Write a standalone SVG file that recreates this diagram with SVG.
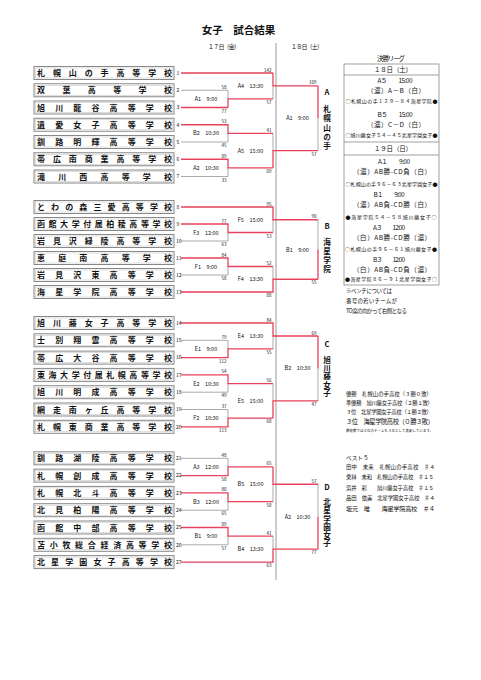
<svg xmlns="http://www.w3.org/2000/svg" width="481" height="680" viewBox="0 0 481 680">
<style>
text{font-family:"Noto Sans CJK JP","Noto Sans",sans-serif;fill:#111}
.r{stroke:#e8425a;stroke-width:1.3;fill:none}
.g{stroke:#a0a0a0;stroke-width:0.9;fill:none}
.bo{fill:#fff;stroke:#888;stroke-width:1}
.bi{fill:none;stroke:#bbb;stroke-width:0.5}
.nm{font-size:8px;font-weight:bold}
.no{font-size:5px}
.sc{font-size:4.5px;text-anchor:end}
.ml{font-size:5.5px;text-anchor:middle}
.bl{font-size:7.6px;font-weight:bold;text-anchor:middle}
.vt{font-size:7.6px;font-weight:bold;writing-mode:vertical-rl}
.pt{font-size:6.5px;text-anchor:middle}
.ps{font-size:5px;text-anchor:middle}
.nt{font-size:5.5px}
</style>
<rect width="481" height="680" fill="#fff"/>
<g id="title">
<text x="238.5" y="34" font-size="10.5" font-weight="bold" text-anchor="middle">女子　試合結果</text>
<text x="224" y="49" font-size="6" text-anchor="middle" textLength="32" lengthAdjust="spacing">１７日（金）</text>
<text x="307" y="49" font-size="6" text-anchor="middle" textLength="32" lengthAdjust="spacing">１８日（土）</text>
</g>
<g id="connectors">
<line x1="276" y1="43" x2="276" y2="580" stroke="#999" stroke-width="1"/>
<path class="g" d="M181 90.25H228V98.9M273 85.95V98.9M181 142H228V133.4M181 176.5H228V167.9M273 133.4V150.65M318 118.3V150.65"/>
<path class="r" d="M181 73H273M181 107.5H228M228 107.5V98.9H273M273 73V85.95H318M181 124.75H228V133.4H273M181 159.25H228V167.9H273M273 167.9V150.65H318M318 85.95V118.3"/>
<path class="g" d="M181 241H228V232.5M273 219.75V232.5M181 275H228V266.5M273 266.5V279.25M318 219.75V249.5"/>
<path class="r" d="M181 207H273V219.75H318M181 224H228V232.5H273M181 258H228V266.5H273M181 292H273V279.25H318M318 279.25V249.5"/>
<path class="g" d="M181 340.3H228V348.95M273 336V348.95M181 392.2H228V383.55M181 409.5H228V418.15M273 383.55V400.85M318 368.4V400.85"/>
<path class="r" d="M181 323H273V336H318M181 357.6H228V348.95H273M181 374.9H228V383.55H273M181 426.8H228V418.15H273M273 418.15V400.85H318M318 336V368.4"/>
<path class="g" d="M181 458.3H228V466.95M181 510.2H228V501.55M273 484.25V501.55M181 544.8H228V536.15M273 536.15V549.1M318 484.25V516.7"/>
<path class="r" d="M181 475.6H228V466.95H273M181 492.9H228V501.55H273M273 466.95V484.25H318M181 527.5H228V536.15H273M181 562.1H273V549.1H318M318 549.1V516.7"/>
</g>
<g id="scores">
<text class="sc" x="226.5" y="88.75">58</text><text class="sc" x="226.5" y="112.5">77</text>
<text class="sc" x="226.5" y="123.25">53</text><text class="sc" x="226.5" y="147">45</text>
<text class="sc" x="226.5" y="157.75">89</text><text class="sc" x="226.5" y="181.5">33</text>
<text class="sc" x="271.5" y="71.5">142</text><text class="sc" x="271.5" y="103.9">57</text>
<text class="sc" x="271.5" y="131.9">41</text><text class="sc" x="271.5" y="172.9">69</text>
<text class="sc" x="316.5" y="84.45">109</text><text class="sc" x="316.5" y="155.65">57</text>
<text class="sc" x="226.5" y="222.5">77</text><text class="sc" x="226.5" y="246">63</text>
<text class="sc" x="226.5" y="256.5">84</text><text class="sc" x="226.5" y="280">58</text>
<text class="sc" x="271.5" y="205.5">95</text><text class="sc" x="271.5" y="237.5">53</text>
<text class="sc" x="271.5" y="265">52</text><text class="sc" x="271.5" y="297">88</text>
<text class="sc" x="316.5" y="218.25">90</text><text class="sc" x="316.5" y="284.25">55</text>
<text class="sc" x="226.5" y="338.8">79</text><text class="sc" x="226.5" y="362.6">112</text>
<text class="sc" x="226.5" y="373.4">54</text><text class="sc" x="226.5" y="397.2">49</text>
<text class="sc" x="226.5" y="408">37</text><text class="sc" x="226.5" y="431.8">113</text>
<text class="sc" x="271.5" y="321.5">84</text><text class="sc" x="271.5" y="353.95">55</text>
<text class="sc" x="271.5" y="382.05">56</text><text class="sc" x="271.5" y="423.15">68</text>
<text class="sc" x="316.5" y="334.5">69</text><text class="sc" x="316.5" y="405.85">47</text>
<text class="sc" x="226.5" y="456.8">48</text><text class="sc" x="226.5" y="480.6">58</text>
<text class="sc" x="226.5" y="491.4">80</text><text class="sc" x="226.5" y="515.2">65</text>
<text class="sc" x="226.5" y="526">89</text><text class="sc" x="226.5" y="549.8">57</text>
<text class="sc" x="271.5" y="465.45">65</text><text class="sc" x="271.5" y="506.55">58</text>
<text class="sc" x="271.5" y="534.65">41</text><text class="sc" x="271.5" y="567.1">63</text>
<text class="sc" x="316.5" y="482.75">57</text><text class="sc" x="316.5" y="554.1">77</text>
</g>
<g id="matches">
<text class="ml" x="206" y="100.9">A1　9:00</text>
<text class="ml" x="206" y="135.4">B2　10:30</text>
<text class="ml" x="206" y="169.9">A2　10:30</text>
<text class="ml" x="250.5" y="87.95">A4　13:30</text>
<text class="ml" x="250.5" y="152.65">A5　15:00</text>
<text class="ml" x="297.5" y="120.3">A1　9:00</text>
<text class="ml" x="206" y="234.5">F3　12:00</text>
<text class="ml" x="206" y="268.5">F1　9:00</text>
<text class="ml" x="250.5" y="221.75">F5　15:00</text>
<text class="ml" x="250.5" y="281.25">F4　13:30</text>
<text class="ml" x="297.5" y="251.5">B1　9:00</text>
<text class="ml" x="206" y="350.95">E1　9:00</text>
<text class="ml" x="206" y="385.55">E2　10:30</text>
<text class="ml" x="206" y="420.15">F2　10:30</text>
<text class="ml" x="250.5" y="338">E4　13:30</text>
<text class="ml" x="250.5" y="402.85">E5　15:00</text>
<text class="ml" x="297.5" y="370.4">B2　10:30</text>
<text class="ml" x="206" y="468.95">A3　12:00</text>
<text class="ml" x="206" y="503.55">B3　12:00</text>
<text class="ml" x="206" y="538.15">B1　9:00</text>
<text class="ml" x="250.5" y="486.25">B5　15:00</text>
<text class="ml" x="250.5" y="551.1">B4　13:30</text>
<text class="ml" x="297.5" y="518.7">A2　10:30</text>
</g>
<g id="block-winners">
<text class="bl" x="327" y="95">A</text>
<text class="vt" x="327" y="105.5" letter-spacing="1.6">札幌山の手</text>
<text class="bl" x="327" y="229">B</text>
<text class="vt" x="327" y="237.9" letter-spacing="1.6">海星学院</text>
<text class="bl" x="327" y="346.5">C</text>
<text class="vt" x="327" y="356.2" letter-spacing="0.7">旭川藤女子</text>
<text class="bl" x="327" y="490">D</text>
<text class="vt" x="327" y="498.5" letter-spacing="0.6">北星学園女子</text>
</g>
<g id="schools">
<g id="s1"><rect class="bo" x="34" y="66.5" width="140" height="13"/><rect class="bi" x="35.5" y="68" width="137" height="10"/><text class="nm" x="37" y="76" textLength="135" lengthAdjust="spacing">札幌山の手高等学校</text><text class="no" x="176.5" y="74.8">1</text></g>
<g id="s2"><rect class="bo" x="34" y="83.75" width="140" height="13"/><rect class="bi" x="35.5" y="85.25" width="137" height="10"/><text class="nm" x="37" y="93.25" textLength="135" lengthAdjust="spacing">双葉高等学校</text><text class="no" x="176.5" y="92.05">2</text></g>
<g id="s3"><rect class="bo" x="34" y="101" width="140" height="13"/><rect class="bi" x="35.5" y="102.5" width="137" height="10"/><text class="nm" x="37" y="110.5" textLength="135" lengthAdjust="spacing">旭川龍谷高等学校</text><text class="no" x="176.5" y="109.3">3</text></g>
<g id="s4"><rect class="bo" x="34" y="118.25" width="140" height="13"/><rect class="bi" x="35.5" y="119.75" width="137" height="10"/><text class="nm" x="37" y="127.75" textLength="135" lengthAdjust="spacing">遺愛女子高等学校</text><text class="no" x="176.5" y="126.55">4</text></g>
<g id="s5"><rect class="bo" x="34" y="135.5" width="140" height="13"/><rect class="bi" x="35.5" y="137" width="137" height="10"/><text class="nm" x="37" y="145" textLength="135" lengthAdjust="spacing">釧路明輝高等学校</text><text class="no" x="176.5" y="143.8">5</text></g>
<g id="s6"><rect class="bo" x="34" y="152.75" width="140" height="13"/><rect class="bi" x="35.5" y="154.25" width="137" height="10"/><text class="nm" x="37" y="162.25" textLength="135" lengthAdjust="spacing">帯広南商業高等学校</text><text class="no" x="176.5" y="161.05">6</text></g>
<g id="s7"><rect class="bo" x="34" y="170" width="140" height="13"/><rect class="bi" x="35.5" y="171.5" width="137" height="10"/><text class="nm" x="37" y="179.5" textLength="135" lengthAdjust="spacing">滝川西高等学校</text><text class="no" x="176.5" y="178.3">7</text></g>
<g id="s8"><rect class="bo" x="34" y="200.5" width="140" height="13"/><rect class="bi" x="35.5" y="202" width="137" height="10"/><text class="nm" x="37" y="210" textLength="135" lengthAdjust="spacing">とわの森三愛高等学校</text><text class="no" x="176.5" y="208.8">8</text></g>
<g id="s9"><rect class="bo" x="34" y="217.5" width="140" height="13"/><rect class="bi" x="35.5" y="219" width="137" height="10"/><text class="nm" x="37" y="227" textLength="135" lengthAdjust="spacing">函館大学付属柏稜高等学校</text><text class="no" x="176.5" y="225.8">9</text></g>
<g id="s10"><rect class="bo" x="34" y="234.5" width="140" height="13"/><rect class="bi" x="35.5" y="236" width="137" height="10"/><text class="nm" x="37" y="244" textLength="135" lengthAdjust="spacing">岩見沢緑陵高等学校</text><text class="no" x="176" y="242.8">10</text></g>
<g id="s11"><rect class="bo" x="34" y="251.5" width="140" height="13"/><rect class="bi" x="35.5" y="253" width="137" height="10"/><text class="nm" x="37" y="261" textLength="135" lengthAdjust="spacing">恵庭南高等学校</text><text class="no" x="176" y="259.8">11</text></g>
<g id="s12"><rect class="bo" x="34" y="268.5" width="140" height="13"/><rect class="bi" x="35.5" y="270" width="137" height="10"/><text class="nm" x="37" y="278" textLength="135" lengthAdjust="spacing">岩見沢東高等学校</text><text class="no" x="176" y="276.8">12</text></g>
<g id="s13"><rect class="bo" x="34" y="285.5" width="140" height="13"/><rect class="bi" x="35.5" y="287" width="137" height="10"/><text class="nm" x="37" y="295" textLength="135" lengthAdjust="spacing">海星学院高等学校</text><text class="no" x="176" y="293.8">13</text></g>
<g id="s14"><rect class="bo" x="34" y="316.5" width="140" height="13"/><rect class="bi" x="35.5" y="318" width="137" height="10"/><text class="nm" x="37" y="326" textLength="135" lengthAdjust="spacing">旭川藤女子高等学校</text><text class="no" x="176" y="324.8">14</text></g>
<g id="s15"><rect class="bo" x="34" y="333.8" width="140" height="13"/><rect class="bi" x="35.5" y="335.3" width="137" height="10"/><text class="nm" x="37" y="343.3" textLength="135" lengthAdjust="spacing">士別翔雲高等学校</text><text class="no" x="176" y="342.1">15</text></g>
<g id="s16"><rect class="bo" x="34" y="351.1" width="140" height="13"/><rect class="bi" x="35.5" y="352.6" width="137" height="10"/><text class="nm" x="37" y="360.6" textLength="135" lengthAdjust="spacing">帯広大谷高等学校</text><text class="no" x="176" y="359.4">16</text></g>
<g id="s17"><rect class="bo" x="34" y="368.4" width="140" height="13"/><rect class="bi" x="35.5" y="369.9" width="137" height="10"/><text class="nm" x="37" y="377.9" textLength="135" lengthAdjust="spacing">東海大学付属札幌高等学校</text><text class="no" x="176" y="376.7">17</text></g>
<g id="s18"><rect class="bo" x="34" y="385.7" width="140" height="13"/><rect class="bi" x="35.5" y="387.2" width="137" height="10"/><text class="nm" x="37" y="395.2" textLength="135" lengthAdjust="spacing">旭川明成高等学校</text><text class="no" x="176" y="394">18</text></g>
<g id="s19"><rect class="bo" x="34" y="403" width="140" height="13"/><rect class="bi" x="35.5" y="404.5" width="137" height="10"/><text class="nm" x="37" y="412.5" textLength="135" lengthAdjust="spacing">網走南ヶ丘高等学校</text><text class="no" x="176" y="411.3">19</text></g>
<g id="s20"><rect class="bo" x="34" y="420.3" width="140" height="13"/><rect class="bi" x="35.5" y="421.8" width="137" height="10"/><text class="nm" x="37" y="429.8" textLength="135" lengthAdjust="spacing">札幌東商業高等学校</text><text class="no" x="176" y="428.6">20</text></g>
<g id="s21"><rect class="bo" x="34" y="451.8" width="140" height="13"/><rect class="bi" x="35.5" y="453.3" width="137" height="10"/><text class="nm" x="37" y="461.3" textLength="135" lengthAdjust="spacing">釧路湖陵高等学校</text><text class="no" x="176" y="460.1">21</text></g>
<g id="s22"><rect class="bo" x="34" y="469.1" width="140" height="13"/><rect class="bi" x="35.5" y="470.6" width="137" height="10"/><text class="nm" x="37" y="478.6" textLength="135" lengthAdjust="spacing">札幌創成高等学校</text><text class="no" x="176" y="477.4">22</text></g>
<g id="s23"><rect class="bo" x="34" y="486.4" width="140" height="13"/><rect class="bi" x="35.5" y="487.9" width="137" height="10"/><text class="nm" x="37" y="495.9" textLength="135" lengthAdjust="spacing">札幌北斗高等学校</text><text class="no" x="176" y="494.7">23</text></g>
<g id="s24"><rect class="bo" x="34" y="503.7" width="140" height="13"/><rect class="bi" x="35.5" y="505.2" width="137" height="10"/><text class="nm" x="37" y="513.2" textLength="135" lengthAdjust="spacing">北見柏陽高等学校</text><text class="no" x="176" y="512">24</text></g>
<g id="s25"><rect class="bo" x="34" y="521" width="140" height="13"/><rect class="bi" x="35.5" y="522.5" width="137" height="10"/><text class="nm" x="37" y="530.5" textLength="135" lengthAdjust="spacing">函館中部高等学校</text><text class="no" x="176" y="529.3">25</text></g>
<g id="s26"><rect class="bo" x="34" y="538.3" width="140" height="13"/><rect class="bi" x="35.5" y="539.8" width="137" height="10"/><text class="nm" x="37" y="547.8" textLength="135" lengthAdjust="spacing">苫小牧総合経済高等学校</text><text class="no" x="176" y="546.6">26</text></g>
<g id="s27"><rect class="bo" x="34" y="555.6" width="140" height="13"/><rect class="bi" x="35.5" y="557.1" width="137" height="10"/><text class="nm" x="37" y="565.1" textLength="135" lengthAdjust="spacing">北星学園女子高等学校</text><text class="no" x="176" y="563.9">27</text></g>
</g>
<g id="final-league">
<text x="391" y="60.5" font-size="6.5" text-anchor="middle" textLength="28" lengthAdjust="spacing">決勝リーグ</text>
<rect x="344" y="64" width="95" height="221" fill="none" stroke="#888" stroke-width="0.8"/>
<path d="M344 75H439M344 142H439M344 155H439" stroke="#888" stroke-width="0.8" fill="none"/>
<text class="pt" x="393" y="72.3" textLength="38" lengthAdjust="spacing">１８日（土）</text>
<text class="pt" x="395" y="83.3" textLength="35" lengthAdjust="spacing">A５　　15:00</text>
<text class="pt" x="396" y="93.3" textLength="58" lengthAdjust="spacing">（濃）A－B（白）</text>
<text class="ps" x="391.5" y="102.8" textLength="92" lengthAdjust="spacing">○札幌山の手１２９－８４海星学院●</text>
<text class="pt" x="395" y="116.5" textLength="35" lengthAdjust="spacing">B５　　15:00</text>
<text class="pt" x="396" y="126.5" textLength="58" lengthAdjust="spacing">（濃）C－D（白）</text>
<text class="ps" x="391.5" y="136.8" textLength="92" lengthAdjust="spacing">○旭川藤女子５４－４５北星学園女子●</text>
<text class="pt" x="393" y="150.8" textLength="38" lengthAdjust="spacing">１９日（日）</text>
<text class="pt" x="394" y="163.5" textLength="32" lengthAdjust="spacing">A１　　9:00</text>
<text class="pt" x="392" y="174" textLength="78" lengthAdjust="spacing">（濃）AB勝-CD負（白）</text>
<text class="ps" x="391.5" y="185.8" textLength="92" lengthAdjust="spacing">○札幌山の手９６－６３北星学園女子●</text>
<text class="pt" x="389" y="196.5" textLength="31" lengthAdjust="spacing">B１　　9:00</text>
<text class="pt" x="392" y="207" textLength="78" lengthAdjust="spacing">（濃）AB負-CD勝（白）</text>
<text class="ps" x="391" y="218.5" textLength="91" lengthAdjust="spacing">●海星学院５４－５８旭川藤女子○</text>
<text class="pt" x="389" y="229.5" textLength="32" lengthAdjust="spacing">A３　　12:00</text>
<text class="pt" x="392" y="240.3" textLength="78" lengthAdjust="spacing">（白）AB勝-CD勝（濃）</text>
<text class="ps" x="391" y="251.2" textLength="92" lengthAdjust="spacing">○札幌山の手９６－６１旭川藤女子●</text>
<text class="pt" x="389" y="261.5" textLength="32" lengthAdjust="spacing">B３　　12:00</text>
<text class="pt" x="392" y="271.5" textLength="78" lengthAdjust="spacing">（白）AB負-CD負（濃）</text>
<text class="ps" x="391" y="281.2" textLength="92" lengthAdjust="spacing">●海星学院８６－９１北星学園女子○</text>
<text class="nt" x="346" y="292.5" textLength="46" lengthAdjust="spacing">※ベンチについては</text>
<text class="nt" x="346" y="302.5" textLength="51" lengthAdjust="spacing">番号の若いチームが</text>
<text class="nt" x="346" y="312.5" textLength="61" lengthAdjust="spacing">TO席の向かって右側となる</text>
</g>
<g id="results">
<text font-size="5.4" x="346" y="396" textLength="86" lengthAdjust="spacing">優勝　札幌山の手高校（３勝０敗）</text>
<text font-size="5.4" x="346" y="405" textLength="87" lengthAdjust="spacing">準優勝　旭川藤女子高校（２勝１敗）</text>
<text font-size="5.4" x="346" y="414" textLength="86" lengthAdjust="spacing">３位　北星学園女子高校（１勝２敗）</text>
<text font-size="6.3" x="346" y="424.2" textLength="88" lengthAdjust="spacing">３位　海星学院高校（０勝３敗）</text>
<text font-size="3.4" x="346" y="432" textLength="87" lengthAdjust="spacing">最終戦では４位のチームも３位として表彰しています。</text>
<text font-size="5.6" x="346" y="460.3">ベスト５</text>
<text font-size="5.4" x="346" y="469.3" textLength="89" lengthAdjust="spacing">田中　未来　札幌山の手高校　＃４</text>
<text font-size="5.4" x="346" y="479.3" textLength="88" lengthAdjust="spacing">栗林　未和　札幌山の手高校　＃１５</text>
<text font-size="5.4" x="346" y="490.3" textLength="88" lengthAdjust="spacing">浜井　彩　　旭川藤女子高校　＃１５</text>
<text font-size="5.4" x="346" y="500.3" textLength="89" lengthAdjust="spacing">品田　依美　北星学園女子高校　＃４</text>
<text font-size="6.2" x="346" y="510.5" textLength="89" lengthAdjust="spacing">坂元　唯　　海星学院高校　＃４</text>
</g>
</svg>
